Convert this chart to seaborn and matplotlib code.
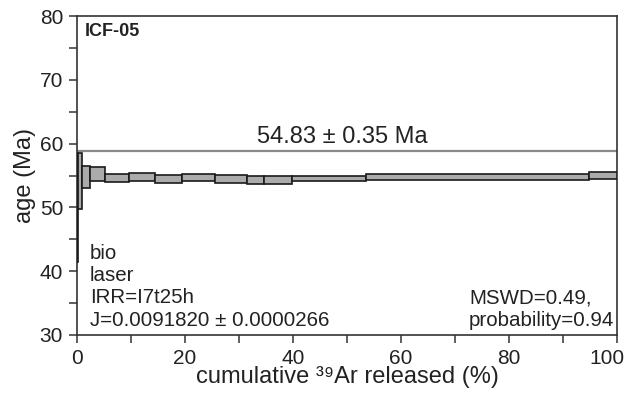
import matplotlib
matplotlib.use("Agg")
import matplotlib.pyplot as plt
import matplotlib.transforms as mtransforms
import seaborn as sns
import numpy as np

# step heating data: cumulative 39Ar start/end (%), apparent age and 2-sigma error (Ma)
cum_start = [0.0, 0.15, 1.0, 2.4, 5.2, 9.7, 14.4, 19.5, 25.6, 31.4, 34.7, 39.8, 53.5, 94.9]
cum_end = [0.15, 1.0, 2.4, 5.2, 9.7, 14.4, 19.5, 25.6, 31.4, 34.7, 39.8, 53.5, 94.9, 100.0]
age = [50.0, 54.15, 54.75, 55.3, 54.65, 54.75, 54.45, 54.7, 54.45, 54.25, 54.3, 54.5, 54.8, 54.95]
err = [8.5, 4.35, 1.75, 1.1, 0.65, 0.65, 0.65, 0.6, 0.65, 0.65, 0.6, 0.4, 0.45, 0.55]

plateau_x = [0, 100]
plateau_y = [58.8, 58.8]
plateau_label = "54.83 ± 0.35 Ma"

sample = "ICF-05"
info_lines = ["bio", "laser", "IRR=I7t25h", "J=0.0091820 ± 0.0000266"]
stats_lines = ["MSWD=0.49,", "probability=0.94"]

sns.set_theme(style="ticks")
plt.rcParams['font.family'] = ['Liberation Sans', 'DejaVu Sans']
plt.rcParams['text.color'] = '#222222'

fig = plt.figure(figsize=(6.26, 3.94), dpi=100)
ax = fig.add_axes([77 / 626, 1 - 335 / 394, 540 / 626, 319 / 394])

start = np.array(cum_start)
width = np.array(cum_end) - start
lo = np.array(age) - np.array(err)
ax.bar(start, 2 * np.array(err), width=width, bottom=lo, align='edge',
       color='#ababab', edgecolor='#1a1a1a', linewidth=1.2, zorder=3)

# plateau bar
ax.plot(plateau_x, plateau_y, color='#8a8a8a', lw=1.6, zorder=2)
ax.text(49.1, 61.0, plateau_label, ha='center', va='center', fontsize=17, color='#222222')

ax.text(1.5, 77.6, sample, ha='left', va='center', fontsize=13, fontweight='bold')
for txt, y in zip(info_lines, [42.7, 39.3, 35.95, 32.35]):
    ax.text(2.4, y, txt, ha='left', va='center', fontsize=14.8)
for txt, y in zip(stats_lines, [35.85, 32.3]):
    ax.text(72.6, y, txt, ha='left', va='center', fontsize=14.8)

ax.set_xlim(0, 100)
ax.set_ylim(30, 80)
ax.set_xticks([0, 20, 40, 60, 80, 100])
ax.set_xticks([10, 30, 50, 70, 90], minor=True)
ax.set_yticks([30, 40, 50, 60, 70, 80])
ax.set_yticks([35, 45, 55, 65, 75], minor=True)
ax.tick_params(axis='both', which='both', direction='out', length=6, width=1.1,
               color='#333333', labelsize=15, labelcolor='#222222', pad=4)

# keep the "100" label inside the figure
last = ax.get_xticklabels()[-1]
last.set_transform(last.get_transform() + mtransforms.ScaledTranslation(-10 / 100, 0, fig.dpi_scale_trans))

for s in ax.spines.values():
    s.set_color('#333333')
    s.set_linewidth(1.2)

ax.set_xlabel("cumulative \u00b3\u2079Ar released (%)", fontsize=17, labelpad=-1, color='#222222')
ax.set_ylabel("age (Ma)", fontsize=17, labelpad=3, color='#222222')

fig.savefig("out.png", dpi=100)
